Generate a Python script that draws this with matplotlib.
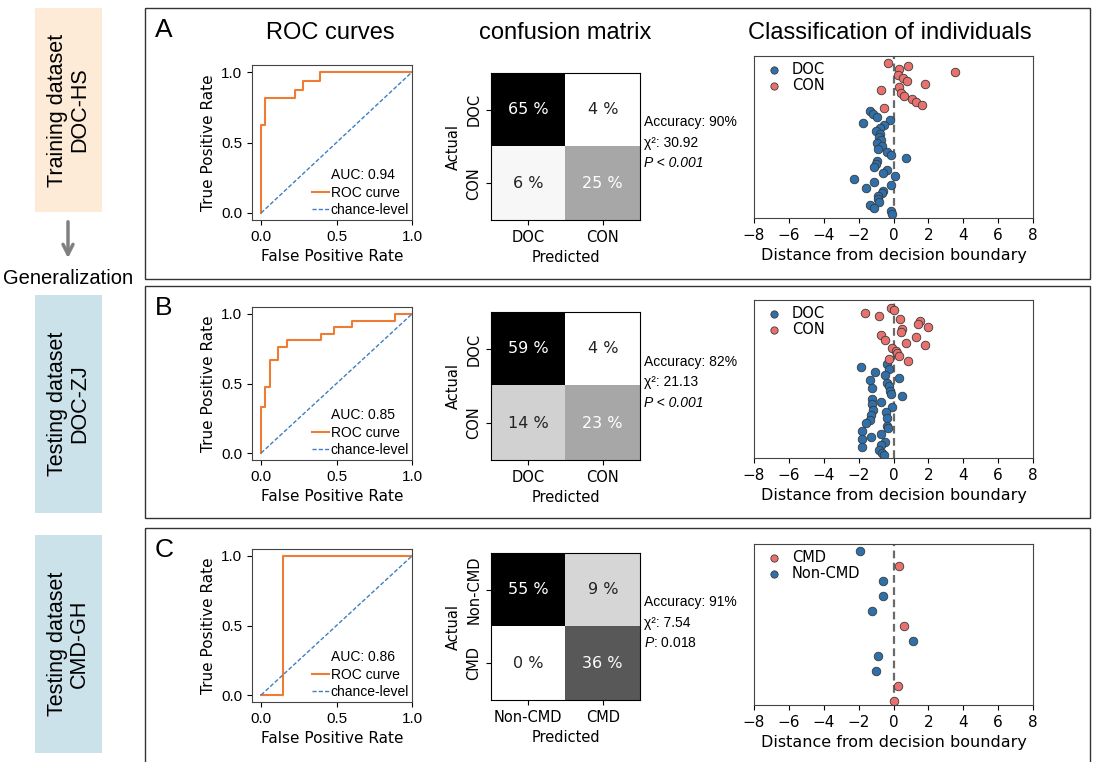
import numpy as np
import matplotlib.pyplot as plt
from matplotlib.patches import Rectangle
from matplotlib.lines import Line2D

plt.rcParams['font.family'] = ['DejaVu Sans']
plt.rcParams['mathtext.fontset'] = 'custom'
plt.rcParams['mathtext.it'] = 'Liberation Sans:italic'
plt.rcParams['mathtext.rm'] = 'Liberation Sans'
ARIAL = ['Liberation Sans', 'DejaVu Sans']

W, H = 1094, 762

# ---------------------------
# ROC curves (step vertices)
# ---------------------------
fpr_a = [0.0, 0.0, 0.028, 0.028, 0.222, 0.222, 0.278, 0.278, 0.389, 0.389, 1.0]
tpr_a = [0.0, 0.625, 0.625, 0.8125, 0.8125, 0.875, 0.875, 0.9375, 0.9375, 1.0, 1.0]

fpr_b = [0.0, 0.0, 0.029, 0.029, 0.057, 0.057, 0.114, 0.114, 0.171, 0.171,
         0.4, 0.4, 0.486, 0.486, 0.6, 0.6, 0.886, 0.886, 1.0]
tpr_b = [0.0, 0.333, 0.333, 0.476, 0.476, 0.667, 0.667, 0.762, 0.762, 0.81,
         0.81, 0.857, 0.857, 0.905, 0.905, 0.952, 0.952, 1.0, 1.0]

fpr_c = [0.0, 0.143, 0.143, 1.0]
tpr_c = [0.0, 0.0, 1.0, 1.0]

# ---------------------------
# confusion matrices (% of subjects)
# ---------------------------
cm_a = [[65, 4], [6, 25]]
cm_b = [[59, 4], [14, 23]]
cm_c = [[55, 9], [0, 36]]

cm_labels_a = ['DOC', 'CON']
cm_labels_b = ['DOC', 'CON']
cm_labels_c = ['Non-CMD', 'CMD']

acc_a, chi_a, p_a = '90%', '30.92', '< 0.001'
acc_b, chi_b, p_b = '82%', '21.13', '< 0.001'
acc_c, chi_c, p_c = '91%', '7.54', '0.018'

# ---------------------------
# distance from decision boundary, one value per individual (top to bottom)
# ---------------------------
scores_a = [-0.32, 0.84, 0.30, 3.54, 0.27, 0.53, 0.76, 1.79, 0.34, -0.69,
            0.44, 0.63, 1.07, 1.31, 1.64, -0.55,
            -1.37, -1.18, -0.93, -0.21, -1.73, -0.55, -0.78, -0.99, -0.80, -0.84,
            -0.74, -0.97, -0.65, -0.88, -0.36, -0.13, 0.74, -0.93, -1.03, -1.09,
            -0.36, -0.61, 0.11, -2.27, -1.09, -0.13, -1.56, -0.59, -0.65, -0.88,
            -0.90, -0.84, -1.37, -1.12, -0.13, -0.08]
classes_a = ['CON'] * 16 + ['DOC'] * 36

scores_b = [-0.13, 0.02, -1.66, -0.84, 0.36, 1.50, 1.39, 1.96, 0.46, 0.44,
            -0.70, 1.31, -0.46, 0.74, 1.79, -0.11, 0.17, 0.21, 0.30, -0.23, 0.82,
            -0.40, -1.89, -0.23, -1.07, -0.51, 0.34, -1.37, -0.40, -0.27, -1.22,
            -0.21, -0.17, 0.46, -1.22, -0.69, -1.22, -0.08, -1.16, -0.42, -1.31,
            -0.36, -1.37, -1.56, -0.36, -0.32, -1.83, -0.74, -1.28, -1.83, -0.51,
            -0.74, -1.83, -0.84, -0.65, -0.55]
classes_b = ['CON'] * 21 + ['DOC'] * 35

scores_c = [-1.92, 0.34, -0.61, -0.59, -1.26, 0.59, 1.10, -0.90, -0.99, 0.25, 0.02]
classes_c = ['Non-CMD', 'CMD', 'Non-CMD', 'Non-CMD', 'Non-CMD', 'CMD',
             'Non-CMD', 'Non-CMD', 'Non-CMD', 'CMD', 'CMD']

BLUE = '#2f70aa'
RED = '#e8716d'
ORANGE = '#ee7d33'
CHANCE = '#3d7fc0'

# ---------------------------
# layout (pixels: left, top, right, bottom)
# ---------------------------
rows = [
    dict(letter='A', frame=(145, 8, 1090, 279), side=(35, 8, 102, 212),
         side_color='#fdebd7', side_text='Training dataset\nDOC-HS',
         roc=(252, 65, 412, 220), cm=(491, 73, 640, 220), sc=(754, 56, 1033, 218),
         fpr=fpr_a, tpr=tpr_a, cmat=cm_a, cml=cm_labels_a,
         stats=(acc_a, chi_a, p_a),
         scores=scores_a, classes=classes_a, order=['DOC', 'CON'], pad=(2.5, 1.3)),
    dict(letter='B', frame=(145, 286, 1090, 518), side=(35, 295, 102, 513),
         side_color='#cce2eb', side_text='Testing dataset\nDOC-ZJ',
         roc=(252, 307, 412, 460), cm=(491, 312, 640, 460), sc=(754, 300, 1033, 458),
         fpr=fpr_b, tpr=tpr_b, cmat=cm_b, cml=cm_labels_b,
         stats=(acc_b, chi_b, p_b),
         scores=scores_b, classes=classes_b, order=['DOC', 'CON'], pad=(2.9, 1.0)),
    dict(letter='C', frame=(145, 528, 1090, 770), side=(35, 535, 102, 753),
         side_color='#cce2eb', side_text='Testing dataset\nCMD-GH',
         roc=(252, 549, 412, 702), cm=(491, 553, 640, 700), sc=(754, 544, 1033, 705),
         fpr=fpr_c, tpr=tpr_c, cmat=cm_c, cml=cm_labels_c,
         stats=(acc_c, chi_c, p_c),
         scores=scores_c, classes=classes_c, order=['CMD', 'Non-CMD'], pad=(0.5, 0.3)),
]


def fig_rect(box):
    l, t, r, b = box
    return [l / W, 1 - b / H, (r - l) / W, (b - t) / H]


fig = plt.figure(figsize=(W / 100, H / 100), dpi=100)

# background layer for frames, side boxes and headings
bg = fig.add_axes([0, 0, 1, 1], zorder=-1)
bg.set_xlim(0, W)
bg.set_ylim(H, 0)
bg.axis('off')

bg.text(330, 33, 'ROC curves', ha='center', va='center', fontsize=17, family=ARIAL)
bg.text(565, 33, 'confusion matrix', ha='center', va='center', fontsize=17, family=ARIAL)
bg.text(890, 33, 'Classification of individuals', ha='center', va='center',
        fontsize=17, family=ARIAL)

bg.annotate('', xy=(68, 261), xytext=(68, 219),
            arrowprops=dict(arrowstyle='->', color='#808080', lw=2.5, mutation_scale=18))
bg.text(68, 279, 'Generalization', ha='center', va='center', fontsize=14.5, family=ARIAL)

for row in rows:
    l, t, r, b = row['frame']
    bg.add_patch(Rectangle((l, t), r - l, b - t, fill=False, ec='#333333', lw=1.0))
    l, t, r, b = row['side']
    bg.add_patch(Rectangle((l, t), r - l, b - t, fc=row['side_color'], ec='none'))
    bg.text((l + r) / 2, (t + b) / 2, row['side_text'], rotation=90, ha='center',
            va='center', fontsize=15.5, family=ARIAL, linespacing=1.05,
            multialignment='center')
    fl, ft = row['frame'][:2]
    bg.text(fl + 10, ft + 22, row['letter'], ha='left', va='center', fontsize=19,
            family=ARIAL)

    # ROC curve
    ax = fig.add_axes(fig_rect(row['roc']))
    fpr, tpr = np.array(row['fpr']), np.array(row['tpr'])
    auc = np.trapezoid(tpr, fpr)
    roc_line, = ax.plot(fpr, tpr, color=ORANGE, lw=1.5)
    chance_line, = ax.plot([0, 1], [0, 1], color=CHANCE, lw=1.0, ls='--', dashes=(3, 1.5))
    ax.set_xlim(-0.06, 1.0)
    ax.set_ylim(-0.05, 1.05)
    ax.set_xticks([0, 0.5, 1.0])
    ax.set_yticks([0, 0.5, 1.0])
    ax.set_xticklabels(['0.0', '0.5', '1.0'], family=ARIAL, fontsize=11)
    ax.set_yticklabels(['0.0', '0.5', '1.0'], family=ARIAL, fontsize=11)
    ax.set_xlabel('False Positive Rate', fontsize=11)
    ax.set_ylabel('True Positive Rate', fontsize=11)
    for s in ax.spines.values():
        s.set_color('#444444')
    ax.legend([Line2D([], [], color='none'), roc_line, chance_line],
              [f'AUC: {auc:.2f}', 'ROC curve', 'chance-level'],
              loc='lower right', frameon=False, prop={'family': ARIAL, 'size': 10},
              handlelength=1.2, handletextpad=0.15, borderaxespad=0.1,
              borderpad=0.1, labelspacing=0.25)

    # confusion matrix
    ax = fig.add_axes(fig_rect(row['cm']))
    cm = np.array(row['cmat'])
    ax.imshow(cm, cmap='gray_r', vmin=cm.min(), vmax=cm.max(), aspect='auto')
    norm = (cm - cm.min()) / (cm.max() - cm.min())
    for i in range(2):
        for j in range(2):
            ax.text(j, i, f'{cm[i, j]} %', ha='center', va='center', fontsize=11.5,
                    color='white' if norm[i, j] > 0.3 else '#222222')
    ax.set_xticks([0, 1])
    ax.set_yticks([0, 1])
    ax.set_xticklabels(row['cml'], fontsize=10.5)
    ax.set_yticklabels(row['cml'], fontsize=10.5, rotation=90, va='center')
    ax.set_xlabel('Predicted', fontsize=10.5)
    ax.set_ylabel('Actual', fontsize=10.5)
    acc, chi, p = row['stats']
    ax.text(1.03, 0.665, f'Accuracy: {acc}', transform=ax.transAxes, va='center',
            fontsize=10, family=ARIAL)
    ax.text(1.03, 0.525, f'χ²: {chi}', transform=ax.transAxes, va='center',
            fontsize=10, family=ARIAL)
    if p.startswith('<'):
        ax.text(1.03, 0.385, f'P {p}', transform=ax.transAxes, va='center',
                fontsize=10, family=ARIAL, style='italic')
    else:
        ax.text(1.03, 0.385, f'$P$: {p}', transform=ax.transAxes, va='center',
                fontsize=10, family=ARIAL)

    # distance from decision boundary
    ax = fig.add_axes(fig_rect(row['sc']))
    scores = np.array(row['scores'])
    classes = np.array(row['classes'])
    pos = np.arange(len(scores))
    ax.axvline(0, color='#6a6a6a', ls='--', lw=1.6, dashes=(3.5, 2), zorder=1)
    for name in row['order']:
        m = classes == name
        color = RED if name in ('CON', 'CMD') else BLUE
        ax.scatter(scores[m], pos[m], s=38, color=color, edgecolor='#3a3a3a',
                   lw=0.6, label=name, zorder=2)
    top_pad, bottom_pad = row['pad']
    ax.set_ylim(len(scores) - 1 + bottom_pad, -top_pad)
    ax.set_xlim(-8, 8)
    ax.set_xticks(np.arange(-8, 9, 2))
    ax.tick_params(axis='x', labelsize=11)
    ax.set_yticks([])
    ax.set_xlabel('Distance from decision boundary', fontsize=11.5)
    for s in ax.spines.values():
        s.set_color('#444444')
    ax.legend(loc='upper left', frameon=False, fontsize=10.5, handletextpad=0.2,
              borderaxespad=0.2, labelspacing=0.1, markerscale=0.85,
              borderpad=0.2)

fig.savefig('out.png', dpi=100)
